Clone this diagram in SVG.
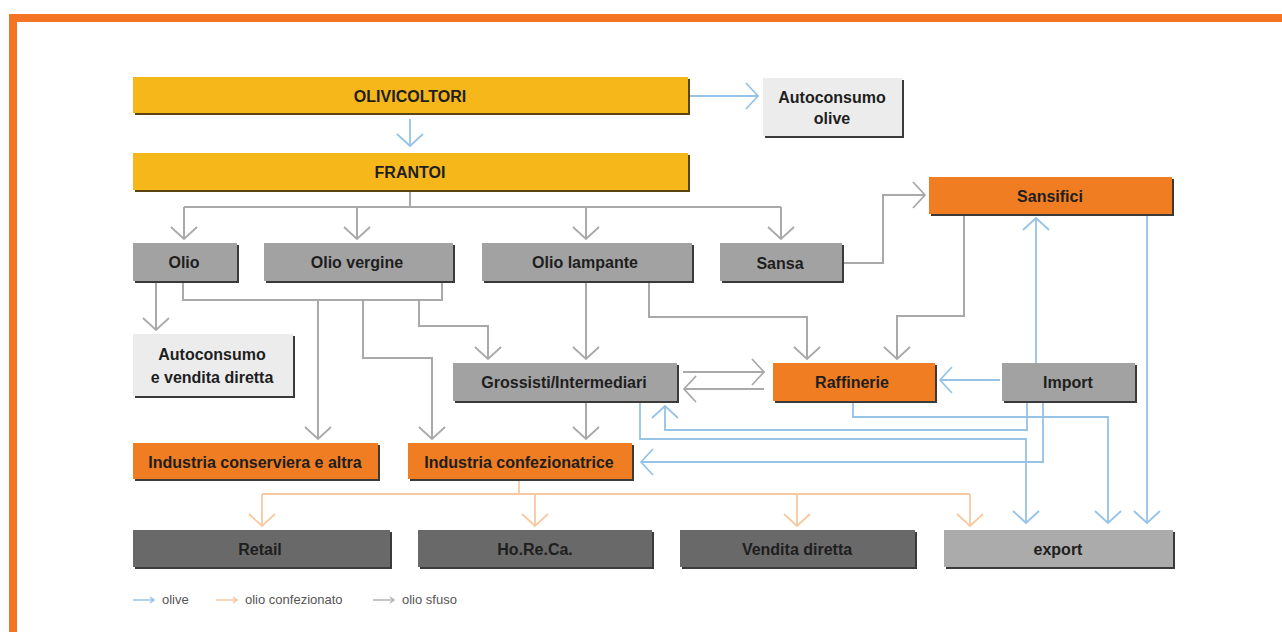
<svg xmlns="http://www.w3.org/2000/svg" width="1282" height="632" viewBox="0 0 1282 632">
<style>
.t{font-family:"Liberation Sans",Arial,sans-serif;font-weight:bold;font-size:16px;fill:#1e1e1e;text-anchor:middle;dominant-baseline:central}
.sh{fill:#3a3a3a}
.shy{fill:#5c4410}
.yel{fill:#F6B71B}
.org{fill:#F07D22}
.gry{fill:#A2A2A2}
.lgt{fill:#ECECEC}
.drk{fill:#696969}
.mid{fill:#ABABAB}
.cb{fill:none;stroke:#96C3E6;stroke-width:1.8}
.cg{fill:none;stroke:#A9A9A9;stroke-width:2}
.co{fill:none;stroke:#F7C9A2;stroke-width:1.8}
.lg{font-family:"Liberation Sans",Arial,sans-serif;font-size:13px;fill:#555}
</style>
<defs>
<marker id="ab" markerUnits="userSpaceOnUse" markerWidth="30" markerHeight="30" viewBox="-15 -15 30 30" refX="0" refY="0" orient="auto"><path d="M-12,-13 L0,0 L-12,13" fill="none" stroke="#96C3E6" stroke-width="1.8"/></marker>
<marker id="ag" markerUnits="userSpaceOnUse" markerWidth="30" markerHeight="30" viewBox="-15 -15 30 30" refX="0" refY="0" orient="auto"><path d="M-12,-13 L0,0 L-12,13" fill="none" stroke="#A9A9A9" stroke-width="1.8"/></marker>
<marker id="ao" markerUnits="userSpaceOnUse" markerWidth="30" markerHeight="30" viewBox="-15 -15 30 30" refX="0" refY="0" orient="auto"><path d="M-12,-13 L0,0 L-12,13" fill="none" stroke="#F7C9A2" stroke-width="1.8"/></marker>
</defs>
<rect width="1282" height="632" fill="#fff"/>
<g id="frame">
<rect x="9" y="14" width="1273" height="8" fill="#F47424"/>
<rect x="9" y="14" width="8" height="618" fill="#F47424"/>
</g>
<g id="connectors">
<path class="cb" d="M690,96 H758" marker-end="url(#ab)"/>
<path class="cb" d="M410,119 V146" marker-end="url(#ab)"/>
<path class="cb" d="M1000,380 H940" marker-end="url(#ab)"/>
<path class="cb" d="M1036,363 V218" marker-end="url(#ab)"/>
<path class="cb" d="M1147,215 V523" marker-end="url(#ab)"/>
<path class="cb" d="M853,402 V417 H1108 V523" marker-end="url(#ab)"/>
<path class="cb" d="M1027,402 V430 H665 V406" marker-end="url(#ab)"/>
<path class="cb" d="M640,402 V439 H1026 V523" marker-end="url(#ab)"/>
<path class="cb" d="M1043,402 V462 H641" marker-end="url(#ab)"/>
<path class="cg" d="M410,191 V207"/>
<path class="cg" d="M184,207 H781"/>
<path class="cg" d="M184,207 V239" marker-end="url(#ag)"/>
<path class="cg" d="M357,207 V239" marker-end="url(#ag)"/>
<path class="cg" d="M586,207 V239" marker-end="url(#ag)"/>
<path class="cg" d="M781,207 V239" marker-end="url(#ag)"/>
<path class="cg" d="M844,263 H883 V195 H925" marker-end="url(#ag)"/>
<path class="cg" d="M156,283 V330" marker-end="url(#ag)"/>
<path class="cg" d="M183,283 V300 H442 V283"/>
<path class="cg" d="M318,300 V439" marker-end="url(#ag)"/>
<path class="cg" d="M363,300 V358 H432 V439" marker-end="url(#ag)"/>
<path class="cg" d="M419,300 V326 H488 V359" marker-end="url(#ag)"/>
<path class="cg" d="M586,283 V359" marker-end="url(#ag)"/>
<path class="cg" d="M649,283 V317 H807 V359" marker-end="url(#ag)"/>
<path class="cg" d="M964,215 V316 H897 V359" marker-end="url(#ag)"/>
<path class="cg" d="M683,372 H764" marker-end="url(#ag)"/>
<path class="cg" d="M764,389 H684" marker-end="url(#ag)"/>
<path class="cg" d="M586,403 V439" marker-end="url(#ag)"/>
<path class="co" d="M519,481 V494"/>
<path class="co" d="M262,494 H970"/>
<path class="co" d="M262,494 V526" marker-end="url(#ao)"/>
<path class="co" d="M535,494 V526" marker-end="url(#ao)"/>
<path class="co" d="M797,494 V526" marker-end="url(#ao)"/>
<path class="co" d="M970,494 V526" marker-end="url(#ao)"/>
</g>
<g id="olivicoltori"><rect class="shy" x="135" y="79" width="555" height="36"/><rect class="yel" x="133" y="77" width="555" height="36"/><text class="t" x="410" y="96">OLIVICOLTORI</text></g>
<g id="frantoi"><rect class="shy" x="135" y="155" width="555" height="37"/><rect class="yel" x="133" y="153" width="555" height="37"/><text class="t" x="410" y="172">FRANTOI</text></g>
<g id="autoconsumo-olive"><rect class="sh" x="765" y="80" width="139" height="58"/><rect class="lgt" x="763" y="78" width="139" height="58"/><text class="t" x="832" y="97">Autoconsumo</text><text class="t" x="832" y="118">olive</text></g>
<g id="sansifici"><rect class="sh" x="931" y="179" width="243" height="37"/><rect class="org" x="929" y="177" width="243" height="37"/><text class="t" x="1050" y="196">Sansifici</text></g>
<g id="olio"><rect class="sh" x="135" y="245" width="104" height="38"/><rect class="gry" x="133" y="243" width="104" height="38"/><text class="t" x="184" y="262">Olio</text></g>
<g id="olio-vergine"><rect class="sh" x="266" y="245" width="189" height="38"/><rect class="gry" x="264" y="243" width="189" height="38"/><text class="t" x="357" y="262">Olio vergine</text></g>
<g id="olio-lampante"><rect class="sh" x="484" y="245" width="210" height="38"/><rect class="gry" x="482" y="243" width="210" height="38"/><text class="t" x="585" y="262">Olio lampante</text></g>
<g id="sansa"><rect class="sh" x="722" y="245" width="122" height="38"/><rect class="gry" x="720" y="243" width="122" height="38"/><text class="t" x="780" y="263">Sansa</text></g>
<g id="autoconsumo-vendita"><rect class="sh" x="135" y="336" width="160" height="62"/><rect class="lgt" x="133" y="334" width="160" height="62"/><text class="t" x="212" y="354">Autoconsumo</text><text class="t" x="212" y="377">e vendita diretta</text></g>
<g id="grossisti"><rect class="sh" x="455" y="365" width="224" height="38"/><rect class="gry" x="453" y="363" width="224" height="38"/><text class="t" x="564" y="382">Grossisti/Intermediari</text></g>
<g id="raffinerie"><rect class="sh" x="775" y="365" width="162" height="38"/><rect class="org" x="773" y="363" width="162" height="38"/><text class="t" x="852" y="382">Raffinerie</text></g>
<g id="import"><rect class="sh" x="1004" y="365" width="133" height="38"/><rect class="gry" x="1002" y="363" width="133" height="38"/><text class="t" x="1068" y="382">Import</text></g>
<g id="industria-conserviera"><rect class="sh" x="135" y="445" width="245" height="36"/><rect class="org" x="133" y="443" width="245" height="36"/><text class="t" x="255" y="462">Industria conserviera e altra</text></g>
<g id="industria-confezionatrice"><rect class="sh" x="410" y="445" width="224" height="36"/><rect class="org" x="408" y="443" width="224" height="36"/><text class="t" x="519" y="462">Industria confezionatrice</text></g>
<g id="retail"><rect class="sh" x="135" y="532" width="257" height="37"/><rect class="drk" x="133" y="530" width="257" height="37"/><text class="t" x="260" y="549">Retail</text></g>
<g id="horeca"><rect class="sh" x="420" y="532" width="234" height="37"/><rect class="drk" x="418" y="530" width="234" height="37"/><text class="t" x="535" y="549">Ho.Re.Ca.</text></g>
<g id="vendita-diretta"><rect class="sh" x="682" y="532" width="235" height="37"/><rect class="drk" x="680" y="530" width="235" height="37"/><text class="t" x="797" y="549">Vendita diretta</text></g>
<g id="export"><rect class="sh" x="946" y="532" width="229" height="37"/><rect class="mid" x="944" y="530" width="229" height="37"/><text class="t" x="1058" y="549">export</text></g>
<g id="legend">
<path d="M133,600 H154 M150,597 L154,600 L150,603" fill="none" stroke="#96C3E6" stroke-width="1.5"/>
<text class="lg" x="162" y="604">olive</text>
<path d="M216,600 H237 M233,597 L237,600 L233,603" fill="none" stroke="#F7C9A2" stroke-width="1.5"/>
<text class="lg" x="245" y="604">olio confezionato</text>
<path d="M373,600 H394 M390,597 L394,600 L390,603" fill="none" stroke="#B5B5B5" stroke-width="1.5"/>
<text class="lg" x="402" y="604">olio sfuso</text>
</g>
</svg>
